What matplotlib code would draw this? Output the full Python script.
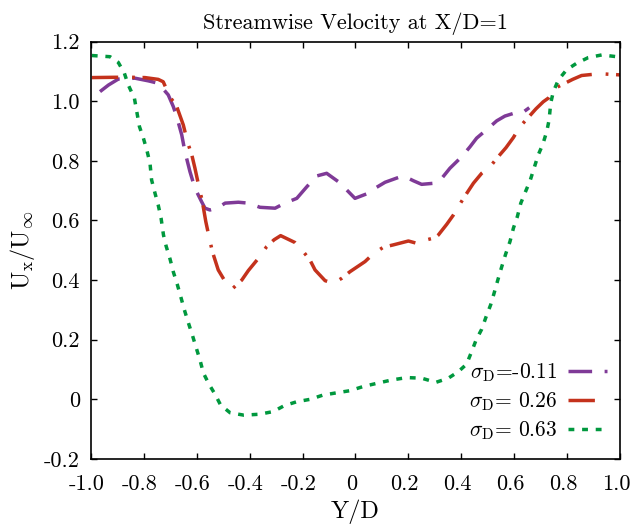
import matplotlib
matplotlib.use("Agg")
import matplotlib.pyplot as plt
from matplotlib.transforms import ScaledTranslation

plt.rcParams['font.family'] = ['cmr10', 'DejaVu Serif']
plt.rcParams['mathtext.fontset'] = 'cm'
plt.rcParams['axes.unicode_minus'] = False
plt.rcParams['lines.scale_dashes'] = False

# ---------------- data ----------------
y_neg011 = [-0.966, -0.934, -0.897, -0.834, -0.783, -0.746, -0.708, -0.689, -0.676, -0.657,
            -0.645, -0.626, -0.607, -0.582, -0.569, -0.550, -0.519, -0.493, -0.443, -0.405,
            -0.361, -0.304, -0.267, -0.222, -0.184, -0.147, -0.109, -0.065, -0.033, -0.002,
            0.042, 0.074, 0.112, 0.162, 0.187, 0.219, 0.250, 0.301, 0.326, 0.357,
            0.402, 0.433, 0.458, 0.502, 0.534, 0.565, 0.612, 0.634, 0.657]
u_neg011 = [1.032, 1.054, 1.074, 1.077, 1.068, 1.060, 1.021, 0.982, 0.948, 0.887,
            0.831, 0.764, 0.708, 0.663, 0.641, 0.635, 0.643, 0.658, 0.661, 0.658,
            0.644, 0.641, 0.658, 0.674, 0.713, 0.749, 0.758, 0.730, 0.702, 0.674,
            0.689, 0.708, 0.728, 0.744, 0.747, 0.733, 0.721, 0.725, 0.741, 0.775,
            0.814, 0.847, 0.876, 0.909, 0.934, 0.950, 0.963, 0.963, 0.978]

y_026 = [-0.997, -0.909, -0.846, -0.796, -0.746, -0.727, -0.702, -0.676, -0.651, -0.635,
         -0.619, -0.607, -0.590, -0.579, -0.566, -0.554, -0.541, -0.519, -0.490, -0.464,
         -0.430, -0.405, -0.367, -0.336, -0.308, -0.283, -0.229, -0.197, -0.172, -0.153,
         -0.115, -0.084, -0.052, -0.021, 0.036, 0.067, 0.105, 0.143, 0.200, 0.237,
         0.269, 0.301, 0.313, 0.345, 0.370, 0.408, 0.446, 0.477, 0.509, 0.534,
         0.569, 0.597, 0.622, 0.645, 0.682, 0.710, 0.729, 0.748, 0.767, 0.821,
         0.855, 0.899, 0.943, 1.000]
u_026 = [1.079, 1.080, 1.080, 1.079, 1.073, 1.065, 1.015, 0.982, 0.920, 0.862,
         0.820, 0.775, 0.705, 0.663, 0.596, 0.546, 0.495, 0.434, 0.391, 0.372,
         0.400, 0.432, 0.473, 0.512, 0.535, 0.549, 0.526, 0.495, 0.467, 0.434,
         0.398, 0.389, 0.406, 0.428, 0.462, 0.488, 0.510, 0.518, 0.531, 0.522,
         0.535, 0.542, 0.551, 0.587, 0.618, 0.674, 0.725, 0.758, 0.780, 0.808,
         0.844, 0.878, 0.915, 0.937, 0.974, 0.998, 1.010, 1.038, 1.049, 1.073,
         1.086, 1.090, 1.091, 1.088]

y_063 = [-0.997, -0.928, -0.897, -0.874, -0.859, -0.836, -0.827, -0.817, -0.802, -0.789,
         -0.777, -0.771, -0.758, -0.746, -0.735, -0.726, -0.716, -0.701, -0.689, -0.674,
         -0.660, -0.647, -0.632, -0.617, -0.603, -0.588, -0.575, -0.554, -0.531, -0.510,
         -0.474, -0.422, -0.364, -0.311, -0.269, -0.222, -0.172, -0.124, -0.071, -0.021,
         0.029, 0.082, 0.137, 0.194, 0.250, 0.304, 0.351, 0.389, 0.420, 0.439,
         0.456, 0.477, 0.493, 0.511, 0.524, 0.538, 0.553, 0.568, 0.584, 0.597,
         0.612, 0.625, 0.643, 0.660, 0.675, 0.691, 0.708, 0.723, 0.732, 0.738,
         0.748, 0.767, 0.798, 0.836, 0.880, 0.931, 0.988]
u_063 = [1.153, 1.149, 1.130, 1.094, 1.054, 1.010, 0.965, 0.915, 0.876, 0.836,
         0.792, 0.736, 0.691, 0.652, 0.607, 0.551, 0.514, 0.470, 0.428, 0.386,
         0.342, 0.300, 0.257, 0.216, 0.175, 0.132, 0.088, 0.051, 0.017, -0.019,
         -0.045, -0.053, -0.050, -0.041, -0.021, -0.008, 0.000, 0.014, 0.022, 0.029,
         0.043, 0.054, 0.065, 0.073, 0.071, 0.057, 0.071, 0.093, 0.118, 0.160,
         0.199, 0.235, 0.275, 0.317, 0.356, 0.400, 0.445, 0.488, 0.529, 0.574,
         0.613, 0.658, 0.697, 0.733, 0.775, 0.820, 0.855, 0.898, 0.937, 0.993,
         1.032, 1.071, 1.105, 1.127, 1.146, 1.155, 1.149]

labels = [r'$\sigma_{\mathrm{D}}$=-0.11', r'$\sigma_{\mathrm{D}}$= 0.26', r'$\sigma_{\mathrm{D}}$= 0.63']

xticks = [-1.0, -0.8, -0.6, -0.4, -0.2, 0.0, 0.2, 0.4, 0.6, 0.8, 1.0]
xticklabels = ['-1.0', '-0.8', '-0.6', '-0.4', '-0.2', '0', '0.2', '0.4', '0.6', '0.8', '1.0']
yticks = [-0.2, 0.0, 0.2, 0.4, 0.6, 0.8, 1.0, 1.2]
yticklabels = ['-0.2', '0', '0.2', '0.4', '0.6', '0.8', '1.0', '1.2']

# ---------------- figure ----------------
fig = plt.figure(figsize=(6.32, 5.28), dpi=100)
ax = fig.add_axes([0.144, 0.1307, 0.837, 0.7907])

lw = 2.5
ax.plot(y_neg011, u_neg011, color='#7f3a97', lw=lw, dashes=(17, 9),
        dash_capstyle='butt', label=labels[0])
ax.plot(y_026, u_026, color='#c4321c', lw=lw, dashes=(19, 10, 2, 5.5),
        dash_capstyle='butt', label=labels[1])
ax.plot(y_063, u_063, color='#00983e', lw=lw, dashes=(4.2, 5.6),
        dash_capstyle='butt', label=labels[2])

ax.set_xlim(-1.0, 1.0)
ax.set_ylim(-0.2, 1.2)
ax.set_xticks(xticks)
ax.set_xticklabels(xticklabels)
ax.set_yticks(yticks)
ax.set_yticklabels(yticklabels)
ax.tick_params(direction='in', length=4.5, width=1.0, top=True, right=True,
               labelsize=16)
ax.tick_params(axis='x', pad=11)
ax.tick_params(axis='y', pad=8)
for s in ax.spines.values():
    s.set_linewidth(1.2)

ax.set_title('Streamwise Velocity at X/D=1', fontsize=16, pad=9)
ax.set_xlabel('Y/D', fontsize=17.5, labelpad=4)
ax.set_ylabel(r'U$_{\mathrm{x}}$/U$_{\infty}$', fontsize=17.5, labelpad=5)

leg = ax.legend(loc='lower right', bbox_to_anchor=(0.975, 0.04), frameon=False,
                markerfirst=False, fontsize=15.5, handlelength=1.8, handletextpad=0.5,
                labelspacing=0.3, borderpad=0, borderaxespad=0)

# gnuplot-like slight leftward shift of the x tick labels
shift = ScaledTranslation(-4 / 100, 0, fig.dpi_scale_trans)
for t in ax.xaxis.get_major_ticks():
    t.label1.set_transform(t.label1.get_transform() + shift)

fig.savefig('out.png', dpi=100)
